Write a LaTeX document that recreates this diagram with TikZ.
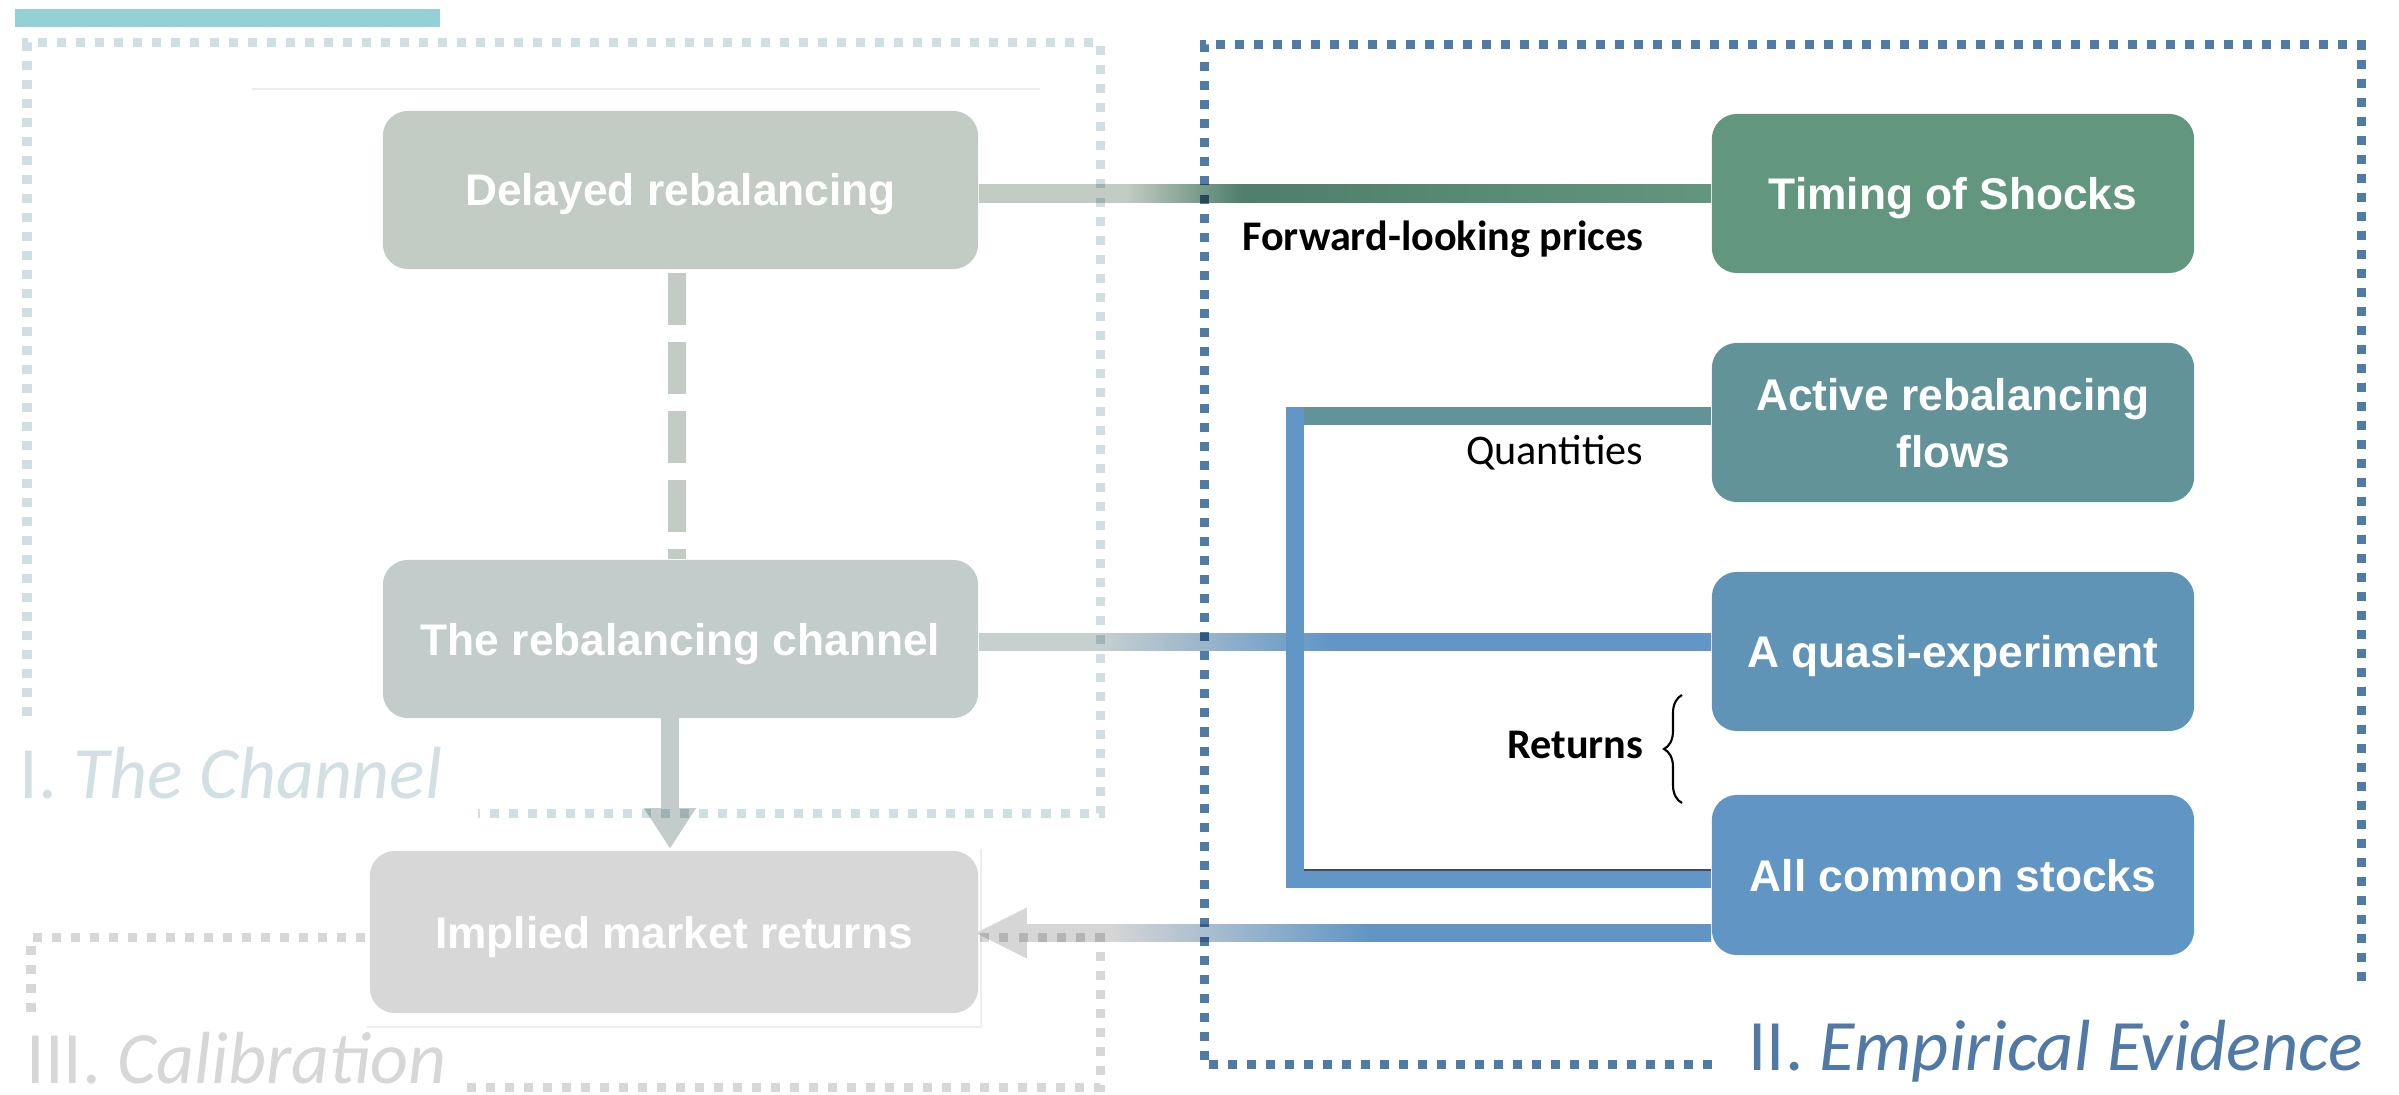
\documentclass[tikz,border=0pt]{standalone}
\usepackage{fontspec}
\setmainfont{Liberation Sans}
\newfontfamily\calibfont{Carlito}
\usetikzlibrary{calc,decorations.pathreplacing}

% palette
\definecolor{barteal}{HTML}{93D1D7}
\definecolor{frameone}{HTML}{D0DFE2}
\definecolor{frametwo}{HTML}{4F7CA7}
\definecolor{framethree}{HTML}{D7D7D7}
\definecolor{labelone}{HTML}{D2E0E3}
\definecolor{labeltwo}{HTML}{5079A5}
\definecolor{cDelayed}{HTML}{C3CCC4}
\definecolor{cChannel}{HTML}{C2CCCB}
\definecolor{cImplied}{HTML}{D7D7D7}
\definecolor{cTiming}{HTML}{62967F}
\definecolor{cActive}{HTML}{629399}
\definecolor{cQuasi}{HTML}{6094B6}
\definecolor{cCommon}{HTML}{6196C4}
\definecolor{cDarkGreen}{HTML}{4F7E6C}
\definecolor{cLightRet}{HTML}{C8D0CF}
\definecolor{cBlueLine}{HTML}{6296C6}
\definecolor{cGrayHead}{HTML}{D6D6D6}
\definecolor{cFaint}{HTML}{EEEEEE}
\definecolor{cEdge}{HTML}{404E5C}

% gradients of the long horizontal links (25bp..75bp = link extent)
\pgfdeclarehorizontalshading{fwdgrad}{100bp}{color(0bp)=(cDelayed); color(35bp)=(cDelayed); color(43bp)=(cDarkGreen); color(75bp)=(cTiming); color(100bp)=(cTiming)}
\pgfdeclarehorizontalshading{chgrad}{100bp}{color(0bp)=(cLightRet); color(33bp)=(cLightRet); color(49bp)=(cBlueLine); color(100bp)=(cBlueLine)}
\pgfdeclarehorizontalshading{retgrad}{100bp}{color(0bp)=(cGrayHead); color(31bp)=(cGrayHead); color(50bp)=(cCommon); color(100bp)=(cCommon)}

\newcommand\diagboxfont{\fontsize{12.6}{16.2}\selectfont\bfseries}
\newcommand\diagnotefont{\calibfont\fontsize{12}{14}\selectfont}
\newcommand\diagsecfont{\calibfont\fontsize{21}{25}\selectfont}
\newcommand\diagsecfontb{\calibfont\fontsize{20.6}{24}\selectfont}

\begin{document}
\begin{tikzpicture}[x=0.01cm, y=-0.01cm,
  stepbox/.style={rounded corners=0.25cm, inner sep=0pt, text=white,
    font=\diagboxfont, align=center, minimum width=4.82cm, minimum height=1.59cm,
    text height=0.32cm, text depth=0pt},
  framedots/.style={line width=0.09cm, dash pattern=on 0.09cm off 0.1cm},
  linkbar/.style={line width=0.18cm},
  note/.style={anchor=base east, inner sep=0pt, text=black},
  seclabel/.style={anchor=base west, inner sep=0pt}]

\useasboundingbox (0,0) rectangle (2399,1095);
\fill[white] (0,0) rectangle (2399,1095);

% title bar and hairlines
\fill[barteal] (15,9) rectangle (440,27);
\draw[cFaint, line width=0.02cm] (252,89) -- (1040,89);
\draw[cFaint, line width=0.02cm] (367,1027) -- (981,1027) -- (981,849);

% part of frame III hidden behind the calibration box
\draw[framedots, framethree] (31,1012) -- (31,938) -- (380,938);

% boxes
\node[stepbox, fill=cDelayed, minimum width=5.95cm, minimum height=1.58cm] (delayed) at (680.5,190) {Delayed rebalancing};
\node[stepbox, fill=cChannel, minimum width=5.95cm, minimum height=1.58cm] (channel) at (680.5,639) {The rebalancing channel};
\node[stepbox, fill=cImplied, minimum width=6.08cm, minimum height=1.62cm] (implied) at (674,932) {Implied market returns};
\node[stepbox, fill=cTiming] (timing) at (1953,193.5) {Timing of Shocks};
\node[stepbox, fill=cActive, text height=0.89cm] (active) at (1953,422.5) {Active rebalancing\\flows};
\node[stepbox, fill=cQuasi] (quasi) at (1953,651.5) {A quasi-experiment};
\node[stepbox, fill=cCommon, minimum height=1.6cm] (common) at (1953,875) {All common stocks};

% links between the two columns
\shade[shading=fwdgrad] ($(delayed.east|-timing.west)+(0,-9)$) rectangle ($(timing.west)+(0,9)$);
\shade[shading=chgrad] ($(channel.east)+(0,-5.5)$) rectangle ($(quasi.west|-channel.east)+(0,11.5)$);
\shade[shading=retgrad] ($(implied.east)+(48,-7.5)$) rectangle ($(common.west)+(0,66.5)$);
\fill[cGrayHead] ($(implied.east)+(-3,1)$) -- ++(51,-25.5) -- ++(0,51) -- cycle;

% bracket joining flows, quasi-experiment and all stocks
\coordinate (lTop) at ($(active.west)+(0,-6.5)$);
\coordinate (lBot) at ($(common.west)+(0,4)$);
\draw[linkbar, cBlueLine] (lTop) -- ++(-416,0) |- (lBot);
\draw[linkbar, cActive] (lTop) -- ++(-407,0);
\draw[cEdge, line width=0.015cm] ($(lBot)+(-407,-9)$) -- ($(lBot)+(0,-9)$);

% links inside the channel column
\draw[linkbar, cDelayed, dash pattern=on 0.52cm off 0.17cm] ($(delayed.south)+(-3.5,3)$) -- ($(channel.north)+(-3.5,0)$);
\draw[linkbar, cChannel] ($(channel.south)+(-10.5,-6)$) -- ($(implied.north)+(-4,-42)$);
\fill[cChannel] ($(implied.north)+(-4,-2)$) -- ++(-26,-40) -- ++(52,0) -- cycle;

% section frames
\begin{scope}[blend mode=multiply]
\draw[framedots, frameone] (27,716) -- (27,43) -- (1100,43) -- (1100,814) -- (478,814);
\draw[framedots, frametwo] (1712,1065) -- (1204,1065) -- (1204,45) -- (2361,45) -- (2361,991);
\draw[framedots, framethree] (467,1088) -- (1100,1088) -- (1100,938) -- (978,938);
\end{scope}

% link labels
\node[note, font=\diagnotefont\bfseries] (fwdlabel) at (1644,251) {Forward-looking prices};
\node[note, font=\diagnotefont] (qlabel) at (1644,465) {Quantities};
\node[note, font=\diagnotefont\bfseries] (rlabel) at (1644,759) {Returns};
\draw[decorate, decoration={brace, amplitude=0.18cm}, line width=0.6pt] (1682,803) -- (1682,695);

% section titles
\node[seclabel, text=labelone, font=\diagsecfont] (secone) at (19,799) {I. \textit{The Channel}};
\node[seclabel, text=framethree, font=\diagsecfont] (secthree) at (26,1084) {III. \textit{Calibration}};
\node[seclabel, text=labeltwo, font=\diagsecfontb] (sectwo) at (1748,1071) {II. \textit{Empirical Evidence}};
\end{tikzpicture}
\end{document}
